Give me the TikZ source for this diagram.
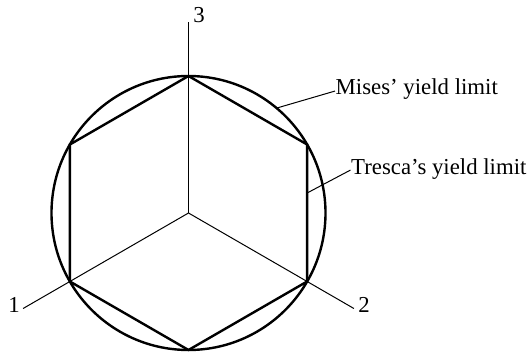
\documentclass[tikz,border=0pt]{standalone}
\usepackage{fontspec}
\setmainfont{Liberation Serif}
\begin{document}
\begin{tikzpicture}[x=1pt,y=-1pt,
  thickline/.style={line width=2.4pt, line join=miter},
  thinline/.style={line width=1pt},
  lbl/.style={font=\fontsize{22.8}{26}\selectfont, inner sep=0pt}]
\useasboundingbox (0,0) rectangle (530,352);
\coordinate (O) at (188.5,213);
% hexagon vertices
\coordinate (vt) at (188.5,76);
\coordinate (vur) at (307.1,144.5);
\coordinate (vlr) at (307.1,281.5);
\coordinate (vb) at (188.5,350);
\coordinate (vll) at (69.9,281.5);
\coordinate (vul) at (69.9,144.5);
% axis ends
\coordinate (a3) at (188.5,22);
\coordinate (a1) at (23.1,308.5);
\coordinate (a2) at (353.9,308.5);
% axes
\draw[thinline] (O) -- (a3);
\draw[thinline] (O) -- (a1);
\draw[thinline] (O) -- (a2);
% circle
\draw[thickline] (O) circle[radius=137pt];
% hexagon
\draw[thickline] (vt) -- (vur) -- (vlr) -- (vb) -- (vll) -- (vul) -- cycle;
% axis labels
\node[lbl, anchor=base] (l3) at (199,23) {3};
\node[lbl, anchor=base] (l1) at (14,313) {1};
\node[lbl, anchor=base] (l2) at (364,313) {2};
% yield limit labels
\node[lbl, anchor=base west] (mises) at (335.5,94.5) {Mises’ yield limit};
\node[lbl, anchor=base west] (tresca) at (351,174.5) {Tresca’s yield limit};
\coordinate (mp) at (276.6,108.1);
\coordinate (tp) at (307.1,193);
\draw[thinline] (mp) -- ([xshift=-0.5pt,yshift=-2pt]mises.west);
\draw[thinline] (tp) -- ([xshift=-0.5pt,yshift=-1pt]tresca.west);
\end{tikzpicture}
\end{document}
